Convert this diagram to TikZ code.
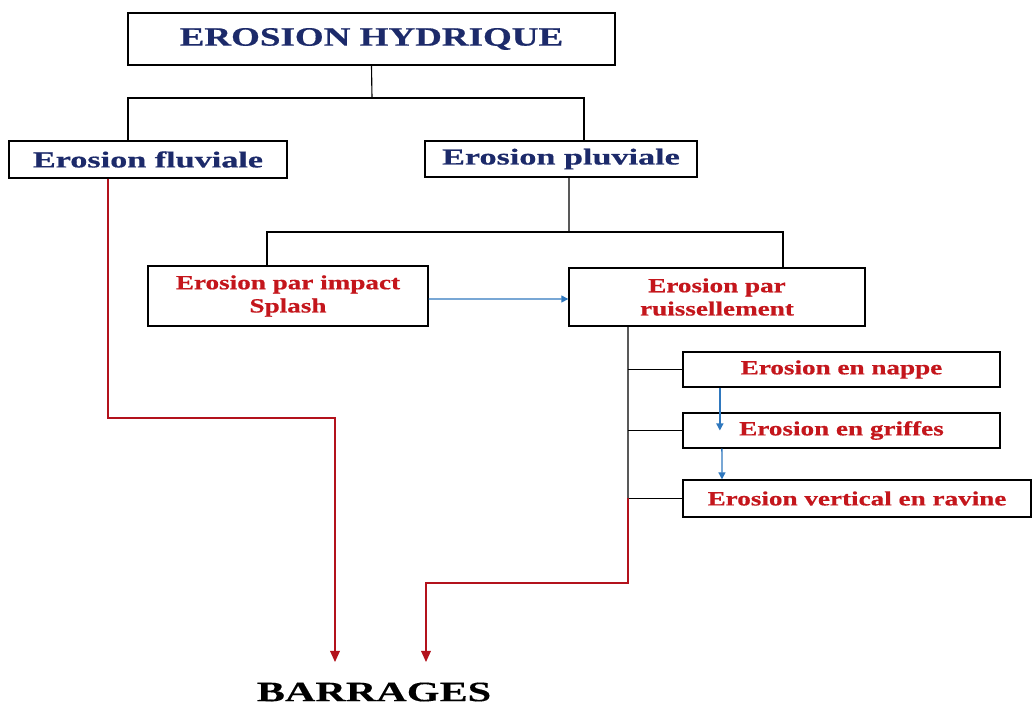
\documentclass[tikz,border=0pt]{standalone}
\usepackage{fontspec}
\setmainfont{Liberation Serif}
\newfontfamily\wftop[FakeStretch=1.4,BoldFeatures={FakeBold=0.6}]{Liberation Serif}
\newfontfamily\wfblue[FakeStretch=1.5,BoldFeatures={FakeBold=0.6}]{Liberation Serif}
\newfontfamily\wfred[FakeStretch=1.35,BoldFeatures={FakeBold=0.6}]{Liberation Serif}
\newfontfamily\wfbar[FakeStretch=1.5,BoldFeatures={FakeBold=0.3}]{Liberation Serif}
\usetikzlibrary{arrows.meta}
\definecolor{navy}{HTML}{1C2A6A}
\definecolor{rtext}{HTML}{C4161C}
\definecolor{rline}{HTML}{B3121C}
\definecolor{bline}{HTML}{2F78BE}
\tikzset{
  box/.style={draw=black, line width=0.9pt, fill=white, inner sep=0pt, align=center},
  navytext/.style={text=navy, font=\wfblue\bfseries\fontsize{16.2}{19}\selectfont},
  redtext/.style={text=rtext, font=\wfred\bfseries\fontsize{14.3}{16.5}\selectfont},
  link/.style={draw=black, line width=0.8pt},
  redarrow/.style={draw=rline, line width=0.9pt, -{Triangle[length=8pt,width=7pt]}},
  bluearrow/.style={draw=bline, line width=0.9pt, -{Triangle[length=5pt,width=5pt]}},
}
\begin{document}
\begin{tikzpicture}[x=0.025cm,y=-0.025cm]
\useasboundingbox (0,0) rectangle (1035,706);
% boxes
\node[box, minimum width=12.175cm, minimum height=1.3cm, text=navy, font=\wftop\bfseries\fontsize{18.8}{22}\selectfont] (top) at (371.5,39) {EROSION HYDRIQUE};
\node[box, navytext, minimum width=6.95cm, minimum height=0.925cm] (fluv) at (148,159.5) {Erosion fluviale};
\node[box, navytext, minimum width=6.8cm, minimum height=0.9cm] (pluv) at (561,159) {Erosion pluviale};
\node[box, redtext, minimum width=7.0cm, minimum height=1.5cm] (impact) at (288,296) {Erosion par impact\\Splash};
\node[box, redtext, minimum width=7.4cm, minimum height=1.45cm] (ruis) at (717,297) {Erosion par\\ruissellement};
\node[box, redtext, minimum width=7.925cm, minimum height=0.875cm] (nappe) at (841.5,369.5) {Erosion en nappe};
\node[box, redtext, minimum width=7.925cm, minimum height=0.875cm] (griffes) at (841.5,430.5) {Erosion en griffes};
\node[box, redtext, minimum width=8.7cm, minimum height=0.925cm] (ravine) at (857,498.5) {Erosion vertical en ravine};
\node[text=black, font=\wfbar\bfseries\fontsize{20}{24}\selectfont, inner sep=0pt] (barr) at (374,692) {BARRAGES};
% coordinates
\coordinate (j1) at (372,98);
\coordinate (j2) at (569,232);
\coordinate (stemtop) at (628,326);
\coordinate (stemred) at (628,498);
\coordinate (tipA) at (335,662);
\coordinate (tipB) at (426,662);
% top tree
\draw[link] (top.south) -- (j1);
\draw[link] ([xshift=-0.5cm]fluv.north) |- (j1) -| ([xshift=0.575cm]pluv.north);
% pluviale tree
\draw[link] ([xshift=0.2cm]pluv.south) -- (j2);
\draw[link] ([xshift=-0.525cm]impact.north) |- (j2) -| ([xshift=1.65cm]ruis.north);
% ruissellement stem
\draw[link] ([xshift=-2.225cm]ruis.south) -- (stemred);
\draw[link] (stemtop |- nappe.west) -- (nappe.west);
\draw[link] (stemtop |- griffes.west) -- (griffes.west);
\draw[link] (stemtop |- ravine.west) -- (ravine.west);
% blue arrows
\draw[bluearrow] ([yshift=-0.075cm]impact.east) -- ([yshift=-0.05cm]ruis.west);
\draw[bluearrow] ([xshift=-3.04cm]nappe.south) -- ([xshift=-3.04cm]griffes.center);
\draw[bluearrow] ([xshift=-2.99cm]griffes.south) -- ([xshift=-3.375cm]ravine.north);
% red arrows
\draw[redarrow] ([xshift=-1cm]fluv.south) |- (tipA |- 0,418) -- (tipA);
\draw[redarrow] (stemred) |- (tipB |- 0,583) -- (tipB);
\end{tikzpicture}
\end{document}
